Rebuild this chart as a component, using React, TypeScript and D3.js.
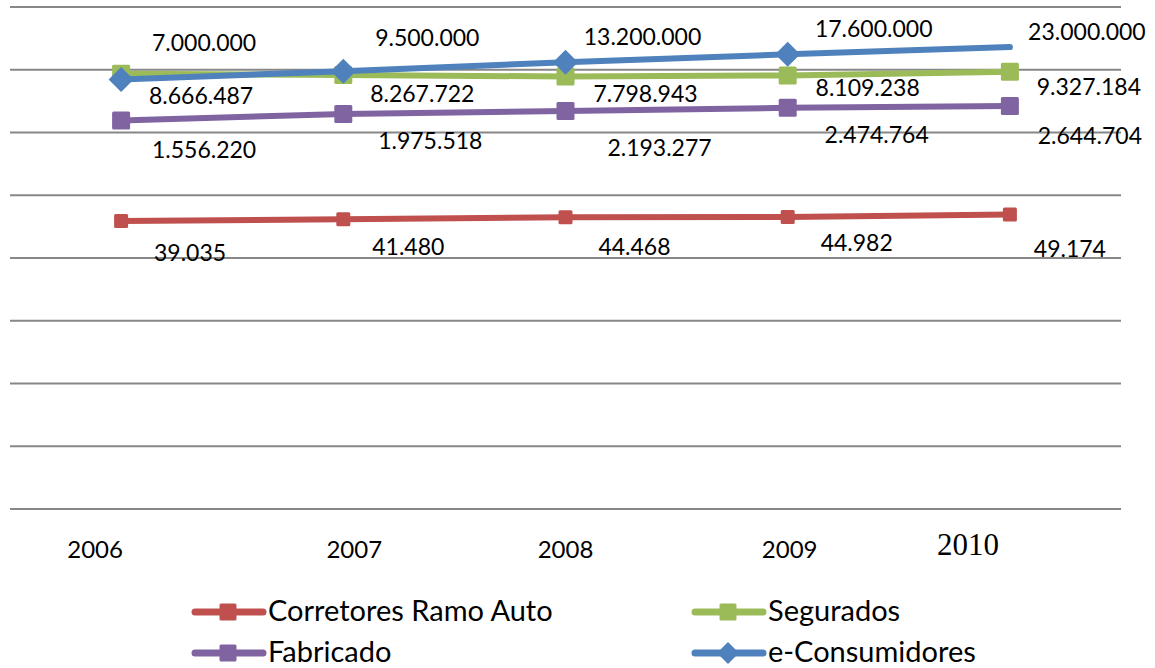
import React from 'react';
import * as d3 from 'd3';

// categories and series values
const years = ['2006', '2007', '2008', '2009', '2010'];
const corretores = [39035, 41480, 44468, 44982, 49174];
const segurados = [8666487, 8267722, 7798943, 8109238, 9327184];
const fabricado = [1556220, 1975518, 2193277, 2474764, 2644704];
const eConsumidores = [7000000, 9500000, 13200000, 17600000, 23000000];
const gridTicks = [1, 10, 100, 1000, 10000, 100000, 1000000, 10000000, 100000000];

// label nudges (dx, dy to the text centre) – the original has hand-placed labels
const nudgeRed = [[69, 32], [65, 28], [69, 30], [69, 26], [60, 34]];
const nudgeGreen = [[80, 22], [79, 19], [80, 17], [80, 13], [79, 15]];
const nudgePurple = [[83, 30], [87, 27], [94, 37], [89, 27], [80, 30]];
const nudgeBlue = [[83, -36], [84, -33], [77, -25], [86, -25], [77, -15]];
const yearNudge = [-26, 11, 0, 2, -42];

const W = 1155;
const H = 668;
const FONT = "Lato, 'Liberation Sans', sans-serif";

type Series = {
  name: string;
  values: number[];
  color: string;
  marker: 'square' | 'diamond';
  size: number;
  nudge: number[][];
  markerCount: number;
};

const series: Series[] = [
  { name: 'Corretores Ramo Auto', values: corretores, color: '#C0504D', marker: 'square', size: 14, nudge: nudgeRed, markerCount: 5 },
  { name: 'Segurados', values: segurados, color: '#9BBB59', marker: 'square', size: 18, nudge: nudgeGreen, markerCount: 5 },
  { name: 'Fabricado', values: fabricado, color: '#8064A2', marker: 'square', size: 18, nudge: nudgePurple, markerCount: 5 },
  { name: 'e-Consumidores', values: eConsumidores, color: '#4F81BD', marker: 'diamond', size: 25, nudge: nudgeBlue, markerCount: 4 },
];

const fmt = (v: number) => d3.format(',')(v).replace(/,/g, '.');

const Marker = ({ kind, x, y, size, color }: { kind: string; x: number; y: number; size: number; color: string }) => {
  if (kind === 'diamond') {
    const h = size / 2;
    return <path d={`M${x},${y - h}L${x + h},${y}L${x},${y + h}L${x - h},${y}Z`} fill={color} />;
  }
  return <rect x={x - size / 2} y={y - size / 2} width={size} height={size} rx={1.5} fill={color} />;
};

export default function App() {
  const x = d3.scaleBand<string>().domain(years).range([10, 1121]);
  const cx = (yr: string) => (x(yr) || 0) + x.bandwidth() / 2;
  const y = d3.scaleLog().domain([1, 1e8]).range([509, 7]);

  const line = d3.line<number>()
    .x((_, i) => cx(years[i]))
    .y(d => y(d));

  const legend = [
    { s: series[0], x: 195, y: 612 },
    { s: series[1], x: 695, y: 612 },
    { s: series[2], x: 195, y: 653 },
    { s: series[3], x: 695, y: 653 },
  ];

  return (
    <div style={{ position: 'absolute', left: 0, top: 0 }}>
      <svg width={W} height={H} style={{ display: 'block', background: '#fff' }}>
        {/* gridlines */}
        {gridTicks.map(t => (
          <line key={t} x1={10} x2={1121} y1={y(t)} y2={y(t)} stroke="#878787" strokeWidth={2} />
        ))}

        {/* series */}
        {series.map(s => (
          <g key={s.name}>
            <path d={line(s.values) || ''} fill="none" stroke={s.color} strokeWidth={6} strokeLinecap="round" strokeLinejoin="round" />
            {s.values.slice(0, s.markerCount).map((v, i) => (
              <Marker key={i} kind={s.marker} x={cx(years[i])} y={y(v)} size={s.size} color={s.color} />
            ))}
          </g>
        ))}

        {/* data labels */}
        {series.map(s => s.values.map((v, i) => (
          <text key={s.name + i} x={cx(years[i]) + s.nudge[i][0]} y={y(v) + s.nudge[i][1] + 8}
            textAnchor="middle" fontFamily={FONT} fontSize={23} fill="#000">
            {fmt(v)}
          </text>
        )))}

        {/* category labels */}
        {years.map((yr, i) => (
          <text key={yr} x={cx(yr) + yearNudge[i]} y={i === 4 ? 555 : 558} textAnchor="middle"
            fontFamily={i === 4 ? "'Liberation Serif', serif" : FONT} fontSize={i === 4 ? 31 : 24} fill="#000">
            {yr}
          </text>
        ))}

        {/* legend */}
        {legend.map(({ s, x: lx, y: ly }) => (
          <g key={s.name}>
            <line x1={lx} x2={lx + 68} y1={ly} y2={ly} stroke={s.color} strokeWidth={7} strokeLinecap="round" />
            <Marker kind={s.marker} x={lx + 33} y={ly} size={s.marker === 'diamond' ? 22 : 17} color={s.color} />
            <text x={lx + 73} y={ly + 9} fontFamily={FONT} fontSize={29} fill="#000">{s.name}</text>
          </g>
        ))}
      </svg>
    </div>
  );
}
